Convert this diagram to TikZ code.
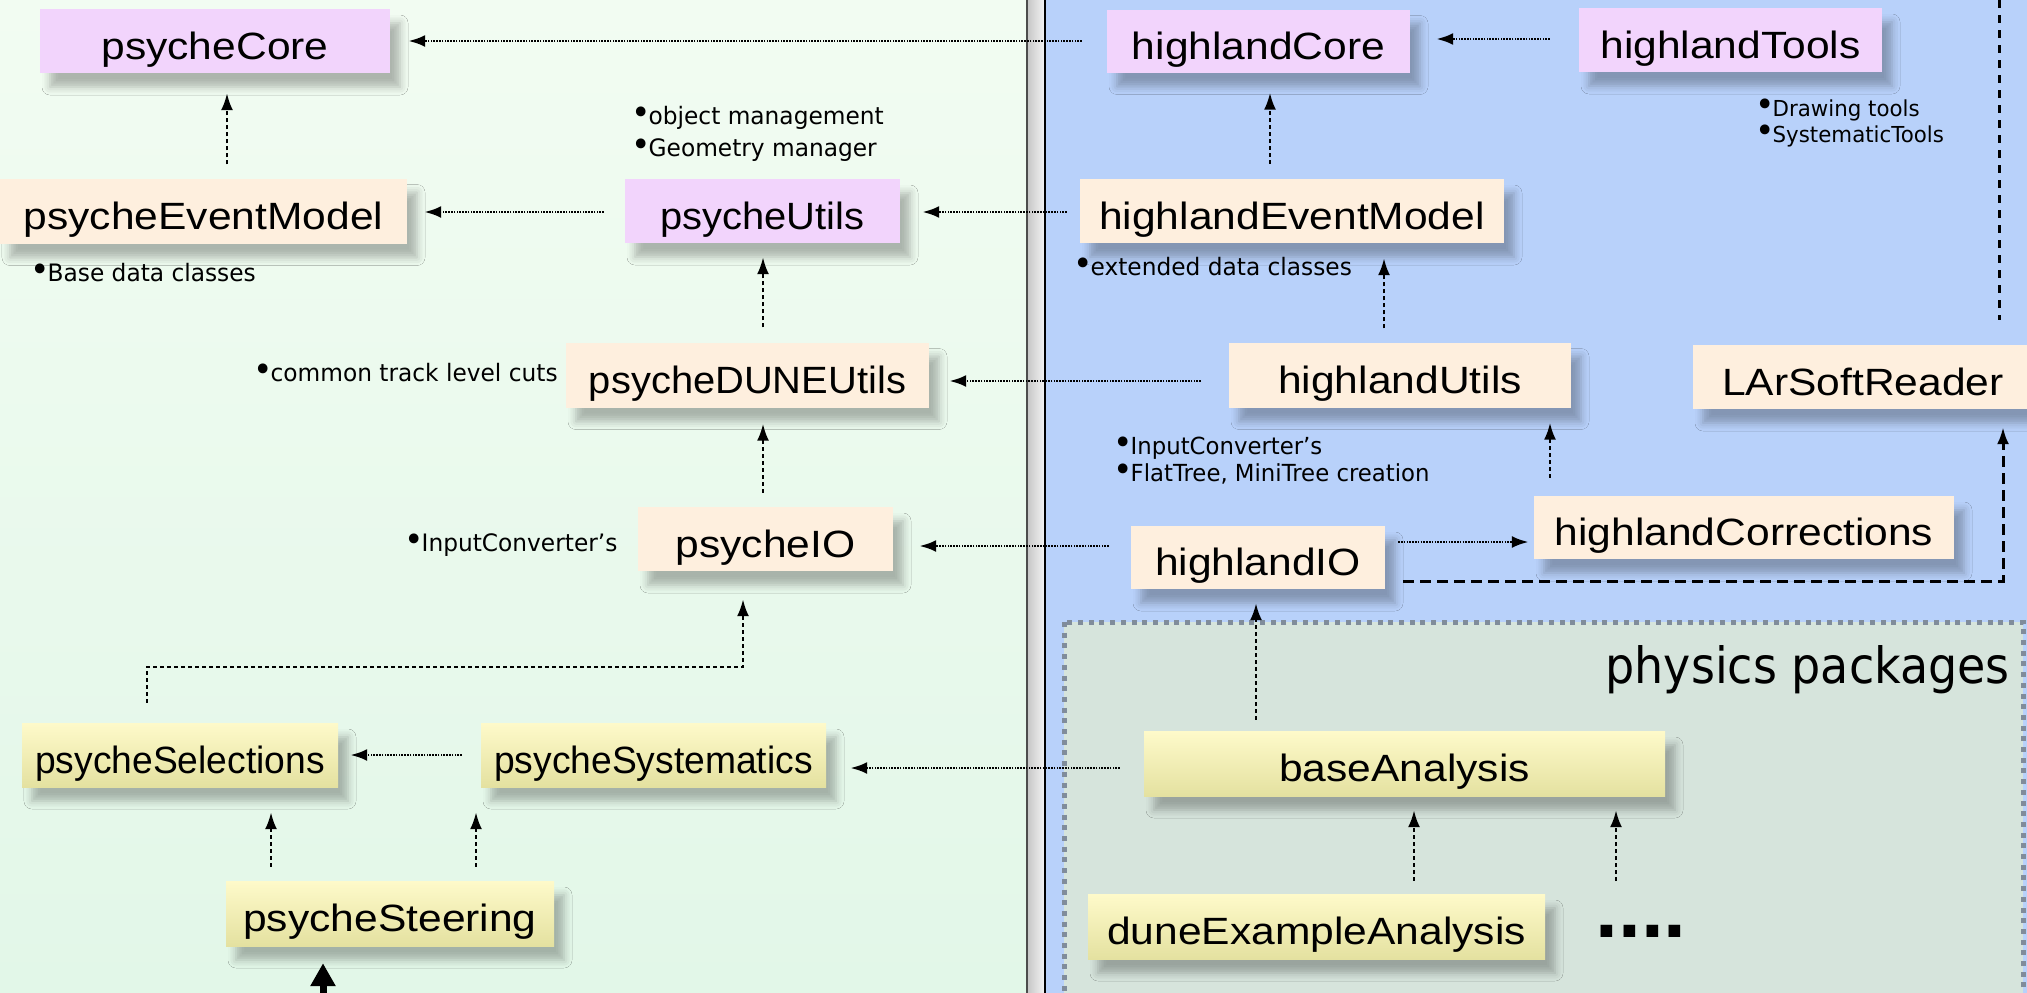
\documentclass[tikz,border=0pt]{standalone}
\usepackage{fontspec}
\setmainfont{Liberation Sans}
\newfontfamily\boxfont[FakeStretch=1.12]{Liberation Sans}
\newfontfamily\boxfontm[FakeStretch=1.05]{Liberation Sans}
\newfontfamily\boxfontn[FakeStretch=0.98]{Liberation Sans}
\newfontfamily\notefont[FakeStretch=0.97]{DejaVu Sans}
\newfontfamily\physfont[FakeStretch=0.92]{DejaVu Sans}
\newcommand\bul{\smash{\fontsize{34}{34}\selectfont •}\kern-2pt}
\usetikzlibrary{calc,arrows.meta,shadows.blur}
\definecolor{leftbgtop}{RGB}{242,252,242}
\definecolor{leftbgbot}{RGB}{226,247,232}
\definecolor{rightbg}{RGB}{184,209,250}
\definecolor{physbg}{RGB}{214,228,220}
\definecolor{physborder}{RGB}{128,140,155}
\definecolor{pinkbox}{RGB}{242,212,252}
\definecolor{peachbox}{RGB}{254,239,222}
\definecolor{yellowtop}{RGB}{254,250,202}
\definecolor{yellowbot}{RGB}{228,225,160}
\tikzset{
  pkg/.style={inner sep=0pt, text height=38pt, text depth=2pt,
    font=\boxfont\fontsize{38}{40}\selectfont,
    blur shadow={shadow xshift=10pt, shadow yshift=-14pt, shadow blur radius=8pt, shadow opacity=28}},
  pinkpkg/.style={pkg, fill=pinkbox},
  peachpkg/.style={pkg, fill=peachbox},
  yellowpkg/.style={pkg, top color=yellowtop, bottom color=yellowbot},
  midtext/.style={font=\boxfontm\fontsize{38}{40}\selectfont},
  narrowtext/.style={font=\boxfontn\fontsize{38}{40}\selectfont},
  note/.style={inner sep=0pt, anchor=west, align=left, font=\notefont\fontsize{24}{32}\selectfont},
  hconn/.style={line width=2.8pt, dash pattern=on 1.6pt off 1.2pt, -{Latex[length=17pt,width=12pt]}},
  vconn/.style={line width=2.5pt, dash pattern=on 4pt off 3pt, -{Latex[length=17pt,width=12pt]}},
  bigdash/.style={line width=3pt, dash pattern=on 11pt off 6pt, -{Latex[length=17pt,width=12pt]}},
  topdash/.style={line width=3pt, dash pattern=on 8pt off 7pt},
  thickarrow/.style={line width=7pt, -{Triangle[length=23pt,width=24pt]}}
}
\begin{document}
\begin{tikzpicture}[x=1pt,y=-1pt]
\useasboundingbox (0,0) rectangle (2027,993);
% backgrounds
\shade[top color=leftbgtop,bottom color=leftbgbot] (0,0) rectangle (1027,993);
\shade[left color=gray!45,right color=gray!8] (1027,0) rectangle (1045,993);
\draw[line width=2pt, black!70] (1027,0) -- (1027,993);
\draw[line width=2pt] (1045,0) -- (1045,993);
\fill[rightbg] (1046,0) rectangle (2027,993);
\draw[physborder, line width=5pt, dash pattern=on 5pt off 5.7pt, fill=physbg] (1064,622) rectangle (2023,1010);
\node[inner sep=0pt, anchor=base east, font=\physfont\fontsize{50}{55}\selectfont] (physLabel) at (2010,683) {physics packages};

% packages
\node[pinkpkg, minimum width=350pt, minimum height=64pt] (psycheCore) at (215,41) {psycheCore};
\node[peachpkg, minimum width=407pt, minimum height=65pt] (psycheEventModel) at (203.5,211) {psycheEventModel};
\node[pinkpkg, midtext, minimum width=275pt, minimum height=64pt] (psycheUtils) at (762.5,211) {psycheUtils};
\node[peachpkg, midtext, minimum width=363pt, minimum height=65pt] (psycheDUNEUtils) at (747.5,375) {psycheDUNEUtils};
\node[peachpkg, minimum width=255pt, minimum height=64pt] (psycheIO) at (765.5,539) {psycheIO};
\node[yellowpkg, narrowtext, minimum width=316pt, minimum height=64pt] (psycheSelections) at (180,755) {psycheSelections};
\node[yellowpkg, narrowtext, minimum width=345pt, minimum height=64pt] (psycheSystematics) at (653.5,755) {psycheSystematics};
\node[yellowpkg, minimum width=328pt, minimum height=65pt] (psycheSteering) at (390,913.5) {psycheSteering};
\node[pinkpkg, minimum width=303pt, minimum height=63pt] (highlandCore) at (1258.5,41) {highlandCore};
\node[pinkpkg, minimum width=303pt, minimum height=64pt] (highlandTools) at (1730.5,40) {highlandTools};
\node[peachpkg, minimum width=424pt, minimum height=64pt] (highlandEventModel) at (1292,211) {highlandEventModel};
\node[peachpkg, minimum width=342pt, minimum height=65pt] (highlandUtils) at (1400,375) {highlandUtils};
\node[peachpkg, minimum width=340pt, minimum height=64pt] (LArSoftReader) at (1863,377) {LArSoftReader};
\node[peachpkg, minimum width=420pt, minimum height=63pt] (highlandCorrections) at (1744,527.5) {highlandCorrections};
\node[peachpkg, minimum width=254pt, minimum height=63pt] (highlandIO) at (1258,557.5) {highlandIO};
\node[yellowpkg, minimum width=521pt, minimum height=65pt] (baseAnalysis) at (1404.5,763.5) {baseAnalysis};
\node[yellowpkg, minimum width=457pt, minimum height=65pt] (duneExampleAnalysis) at (1316.5,926.5) {duneExampleAnalysis};
\node[inner sep=0pt, anchor=base, font=\bfseries\fontsize{82}{82}\selectfont] (dots) at (1641,937) {....};

% notes
\node[note] (noteUtils) at (631,134) {\bul object management\\\bul Geometry manager};
\node[note] (noteEvent) at (30,273) {\bul Base data classes};
\node[note] (noteDUNE) at (253,373) {\bul common track level cuts};
\node[note] (noteIO) at (404,545) {\bul InputConverter’s};
\node[note, font=\notefont\fontsize{22}{26}\selectfont] (noteTools) at (1755,123) {\bul Drawing tools\\\bul SystematicTools};
\node[note] (noteHEvent) at (1073,267) {\bul extended data classes};
\node[note, font=\notefont\fontsize{23.5}{27}\selectfont] (noteHIO) at (1113,460.5) {\bul InputConverter’s\\\bul FlatTree, MiniTree creation};

% connectors
\draw[hconn] ($(highlandCore.west)+(-25,0)$) -- ($(psycheCore.east)+(18,0)$);
\draw[hconn] ($(highlandTools.west)+(-29,-1)$) -- ($(highlandCore.east)+(26,-2)$);
\draw[vconn] ($(psycheEventModel.north)+(23.5,-14)$) -- ($(psycheCore.south)+(12,20)$);
\draw[hconn] ($(psycheUtils.west)+(-21,1)$) -- ($(psycheEventModel.east)+(17,1)$);
\draw[hconn] ($(highlandEventModel.west)+(-13,1)$) -- ($(psycheUtils.east)+(22,1)$);
\draw[vconn] ($(psycheDUNEUtils.north)+(15.5,-15)$) -- ($(psycheUtils.south)+(0.5,14)$);
\draw[hconn] ($(highlandUtils.west)+(-28,6)$) -- ($(psycheDUNEUtils.east)+(20,6)$);
\draw[vconn] ($(psycheIO.north)+(-2.5,-14)$) -- ($(psycheDUNEUtils.south)+(15.5,16)$);
\draw[hconn] ($(highlandIO.west)+(-22,-11.5)$) -- ($(psycheIO.east)+(26,7)$);
\draw[vconn] ($(psycheSelections.north)+(-33,-20)$) |- ($(psycheIO.south)+(-22.5,96)$) -- ($(psycheIO.south)+(-22.5,28)$);
\draw[hconn] ($(psycheSystematics.west)+(-19,0)$) -- ($(psycheSelections.east)+(12,0)$);
\draw[hconn] ($(baseAnalysis.west)+(-24,4.5)$) -- ($(psycheSystematics.east)+(24,13)$);
\draw[vconn] ($(psycheSteering.north)+(-119,-14)$) -- ($(psycheSelections.south)+(91,25)$);
\draw[vconn] ($(psycheSteering.north)+(86,-14)$) -- ($(psycheSystematics.south)+(-177.5,25)$);
\coordinate (steerIn) at (323,1000);
\draw[thickarrow] (steerIn) -- ($(psycheSteering.south)+(-67,17)$);
\draw[vconn] ($(highlandEventModel.north)+(-22,-15)$) -- ($(highlandCore.south)+(11.5,20)$);
\draw[vconn] ($(highlandUtils.north)+(-16,-14)$) -- ($(highlandEventModel.south)+(92,15)$);
\draw[vconn] ($(highlandCorrections.north)+(-194,-18)$) -- ($(highlandUtils.south)+(150,15)$);
\draw[hconn] ($(highlandIO.east)+(13,-15.5)$) -- ($(highlandCorrections.west)+(-5,14.5)$);
\draw[bigdash] ($(highlandIO.east)+(18,23.5)$) -| ($(LArSoftReader.south)+(140,18)$);
\draw[vconn] ($(baseAnalysis.north)+(-148.5,-11)$) -- ($(highlandIO.south)+(-2,14)$);
\draw[vconn] ($(duneExampleAnalysis.north)+(97.5,-13)$) -- ($(baseAnalysis.south)+(9.5,14)$);
\draw[vconn] ($(dots.base)+(-25,-56)$) -- ($(baseAnalysis.south)+(211.5,14)$);
\coordinate (topEdge) at (1999,0);
\draw[topdash] (topEdge) -- ($(LArSoftReader.north)+(136,-25)$);
\end{tikzpicture}
\end{document}
